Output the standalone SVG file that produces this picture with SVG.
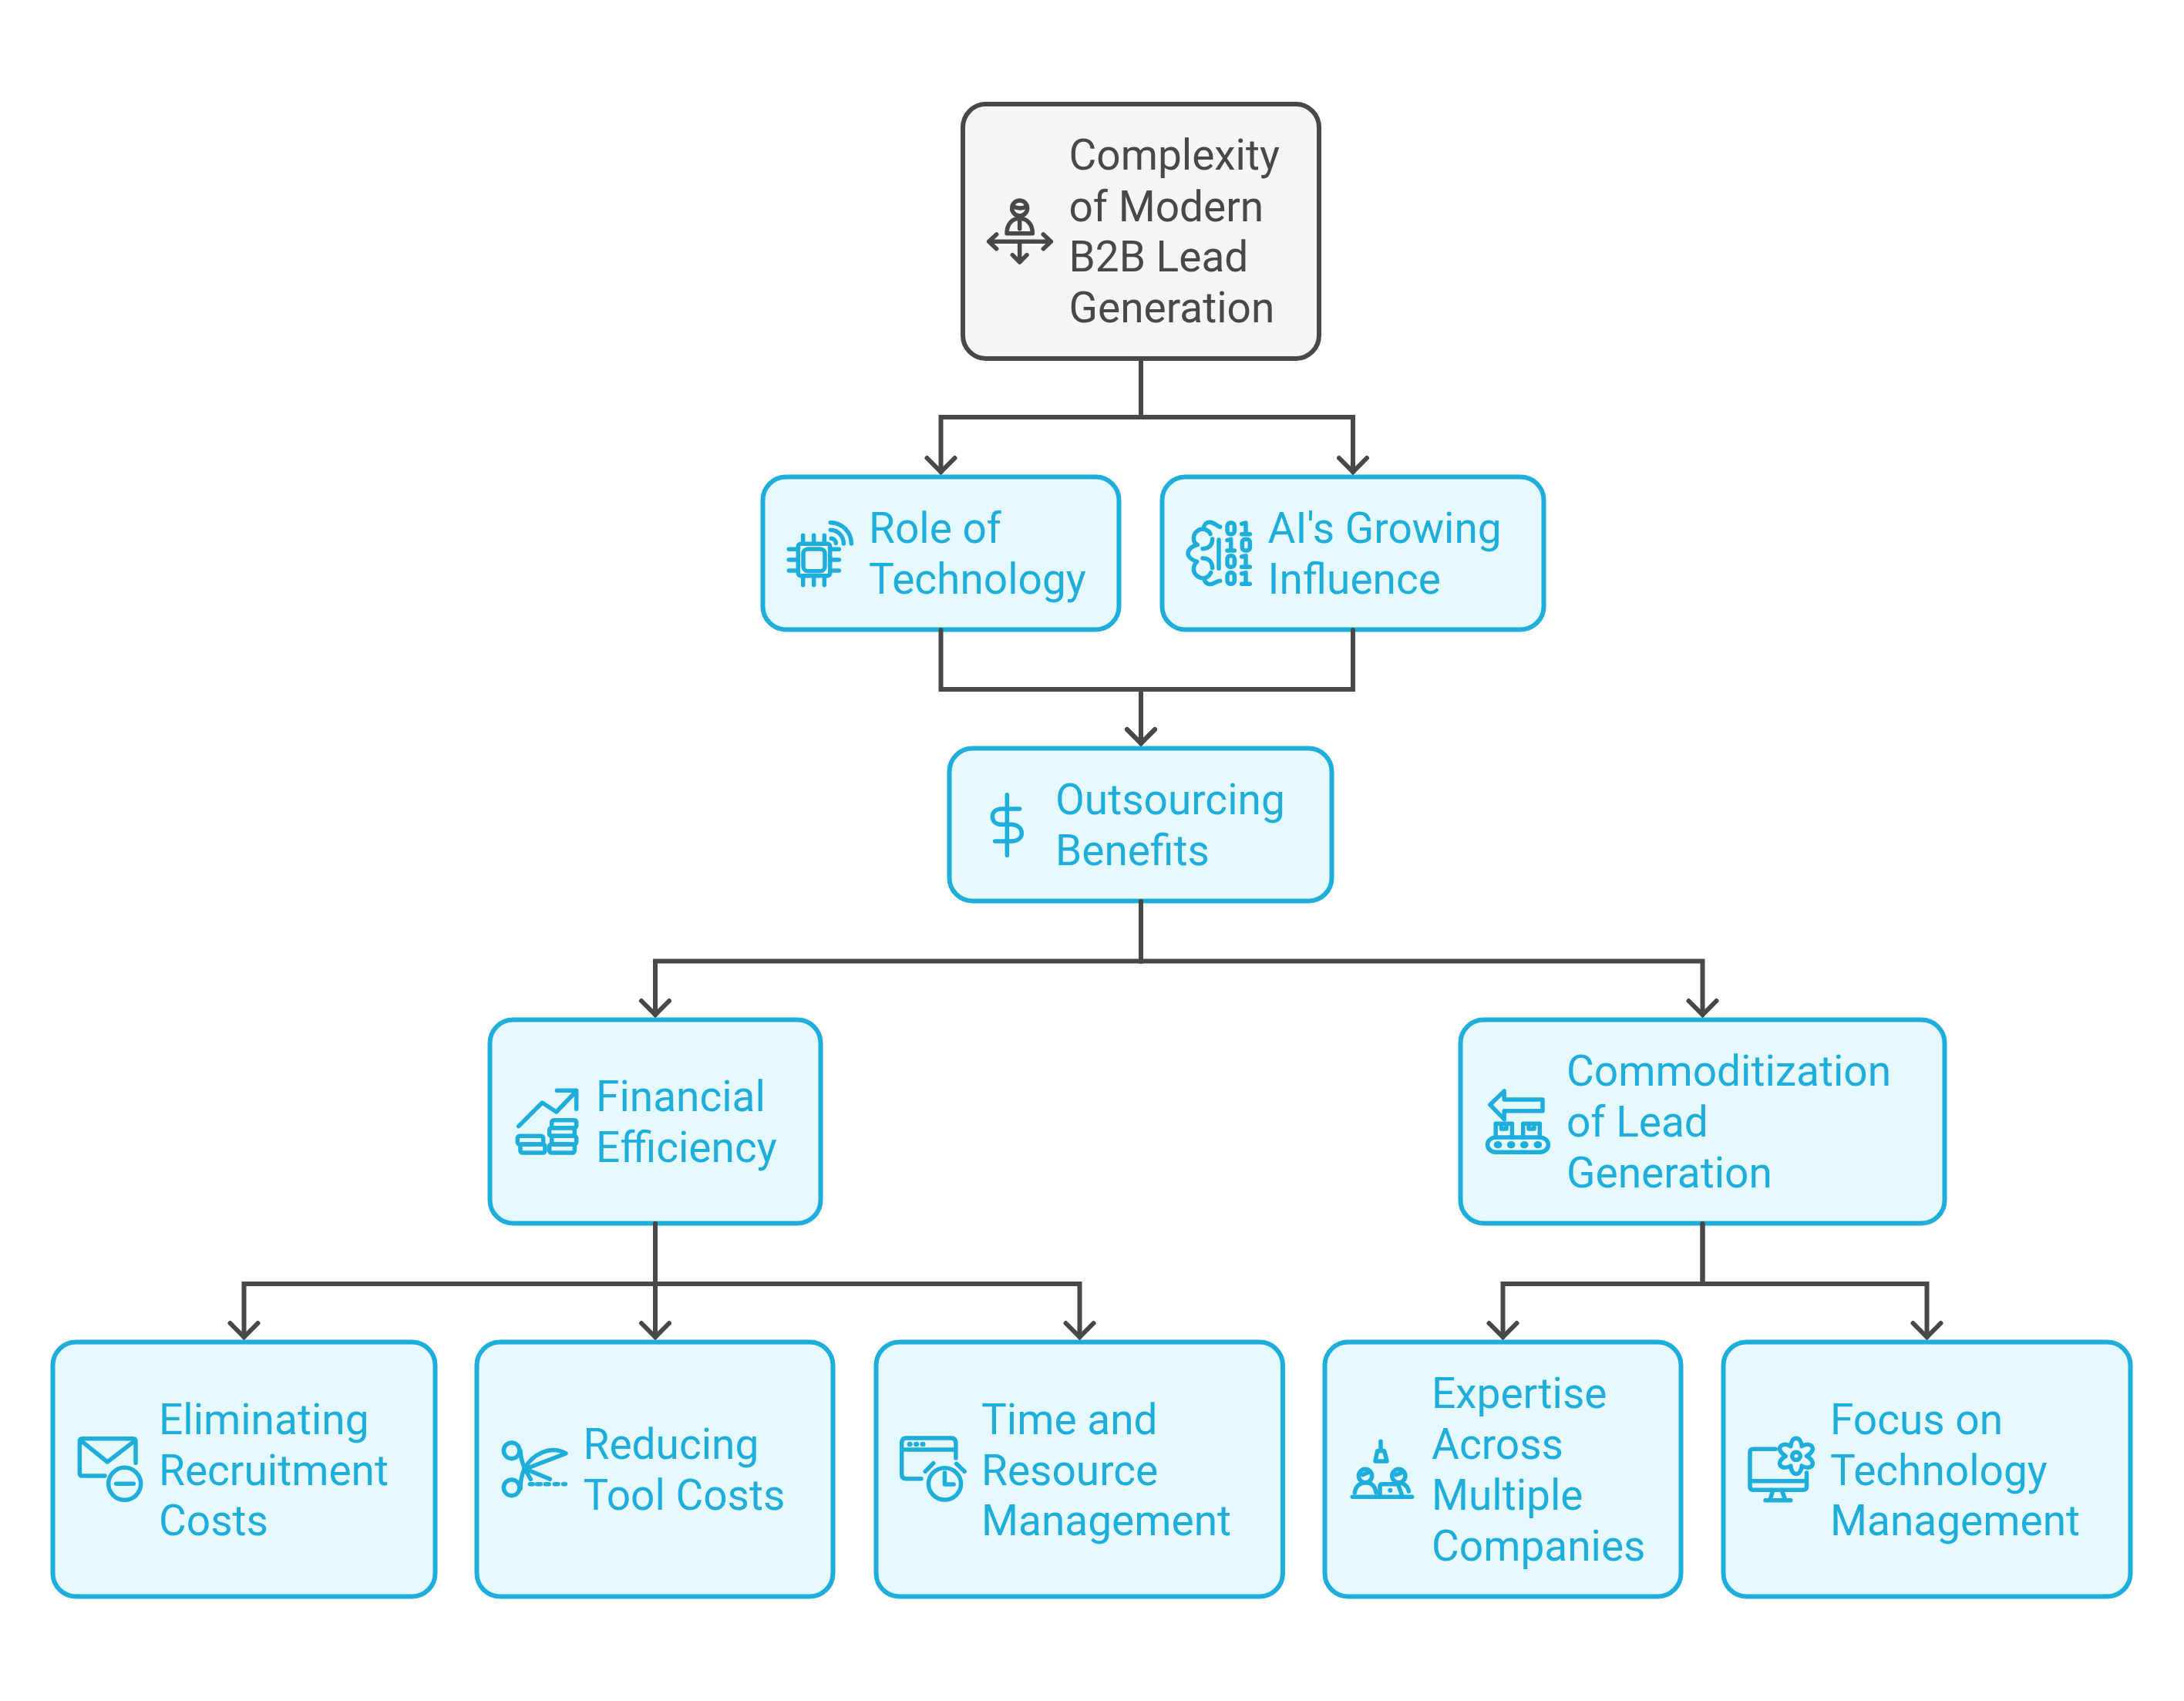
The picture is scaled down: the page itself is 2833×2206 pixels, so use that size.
<svg xmlns="http://www.w3.org/2000/svg" width="2833" height="2206" viewBox="0 0 2833 2206">
<style>
.box{fill:#e6f9ff;stroke:#1faedc;stroke-width:6}
.root{fill:#f5f5f5;stroke:#484848;stroke-width:6}
.t{font-family:Roboto,"Liberation Sans",sans-serif;font-size:55px;fill:#1faedc}
.ic{fill:none;stroke:#1faedc;stroke-width:5.5;stroke-linecap:round;stroke-linejoin:round}
.ic *{vector-effect:non-scaling-stroke}
.ic .f{fill:#1faedc;stroke:none}
.dk{stroke:#484848}
.c{fill:none;stroke:#484848;stroke-width:6;stroke-linecap:round;stroke-linejoin:miter}
</style>
<defs>
<marker id="arr" markerUnits="userSpaceOnUse" viewBox="-24 -24 32 48" refX="0" refY="0" markerWidth="32" markerHeight="48" orient="auto" overflow="visible">
<path d="M-18 -18L0 0L-18 18" fill="none" stroke="#484848" stroke-width="6" stroke-linecap="round" stroke-linejoin="miter"/>
</marker>
</defs>
<rect width="2833" height="2206" fill="#ffffff"/>
<g id="node-complexity">
<rect class="root" x="1249" y="135" width="462" height="330" rx="30"/>
<g class="ic dk" transform="translate(1220 120) scale(.33333)">
<circle cx="308" cy="450" r="30"/><path d="M282 442C300 452 320 452 336 442"/>
<path d="M258 548C258 510 280 490 308 490C335 490 358 510 358 548Z"/><path d="M308 500V530"/>
<path d="M188 580H430M218 552L188 580L218 608M400 552L430 580L400 608"/>
<path d="M308 585V660M280 632L308 660L336 632"/>
</g>
<text class="t" style="fill:#484848"><tspan x="1386.5" y="220">Complexity</tspan><tspan x="1386.5" y="286.5">of Modern</tspan><tspan x="1386.5" y="352">B2B Lead</tspan><tspan x="1386.5" y="418">Generation</tspan></text>
</g>
<g id="node-role">
<rect class="box" x="989.5" y="618.5" width="462" height="198" rx="30"/>
<g class="ic" transform="translate(970 600) scale(.33333)">
<rect x="196" y="316" width="124" height="124" rx="10"/><rect x="216" y="336" width="84" height="86" rx="18"/>
<path d="M215 283V310M257 283V310M298 283V310M215 450V476M257 450V476M298 450V476M160 337H190M160 378H190M160 420H190M325 337H355M325 378H355M325 420H355"/>
<path d="M322 233A82 82 0 0 1 403 315M322 262A52 52 0 0 1 373 315M325 295A19 19 0 0 1 343 313"/>
</g>
<text class="t"><tspan x="1127" y="704">Role of</tspan><tspan x="1127" y="770">Technology</tspan></text>
</g>
<g id="node-ai">
<rect class="box" x="1507.5" y="618.5" width="495" height="198" rx="30"/>
<g class="ic" transform="translate(1490 600) scale(.33333)">
<path d="M278 250C262 245 255 232 238 232C222 232 214 245 214 258C190 258 175 275 175 295C175 305 180 315 190 320C165 325 153 340 153 353C153 365 165 378 188 385C178 395 175 405 175 415C175 435 195 450 215 450C218 465 228 473 240 473C255 473 260 462 278 460"/>
<path d="M214 258C228 262 238 270 240 278M215 450C228 446 238 438 242 428M210 335C235 335 248 320 248 297M210 372C235 372 248 388 248 410M273 300V412"/>
<rect x="306" y="234" width="28" height="44" rx="12"/><path d="M362 238L378 234V278M362 278H394"/>
<path d="M306 302L320 298V342M306 342H334"/><rect x="364" y="298" width="30" height="44" rx="12"/>
<rect x="306" y="362" width="28" height="44" rx="12"/><path d="M362 366L378 362V406M362 406H394"/>
<rect x="306" y="428" width="28" height="44" rx="12"/><path d="M362 432L378 428V472M362 472H394"/>
</g>
<text class="t"><tspan x="1644.5" y="704">AI's Growing</tspan><tspan x="1644.5" y="770">Influence</tspan></text>
</g>
<g id="node-outsourcing">
<rect class="box" x="1231.5" y="970.5" width="496" height="198" rx="30"/>
<g class="ic" transform="translate(1210 950) scale(.33333)">
<path d="M289 242V478M338 297H268C245 297 232 310 232 327C232 345 245 358 268 358H305C330 358 346 372 346 392C346 410 330 423 305 423H242"/>
</g>
<text class="t"><tspan x="1369" y="1056">Outsourcing</tspan><tspan x="1369" y="1122">Benefits</tspan></text>
</g>
<g id="node-financial">
<rect class="box" x="635.5" y="1322.5" width="429" height="264" rx="30"/>
<g class="ic" transform="translate(620 1310) scale(.33333)">
<path d="M158 452L250 360L305 396L383 315M307 313H383V385"/>
<rect x="154" y="490" width="100" height="32" rx="8"/><rect x="165" y="522" width="96" height="33" rx="8"/>
<rect x="287" y="428" width="96" height="30" rx="8"/><rect x="278" y="458" width="98" height="32" rx="8"/><rect x="287" y="490" width="96" height="32" rx="8"/><rect x="278" y="522" width="98" height="33" rx="8"/>
</g>
<text class="t"><tspan x="773" y="1441">Financial</tspan><tspan x="773" y="1507">Efficiency</tspan></text>
</g>
<g id="node-commoditization">
<rect class="box" x="1894.5" y="1322.5" width="628" height="264" rx="30"/>
<g class="ic" transform="translate(1890 1310) scale(.408 .33333)">
<path d="M105 368L150 315V348H272V392H150V425Z"/>
<path d="M123 495V442H175V495M210 495V442H263V495M141 442V462H157V442M228 442V462H245V442"/>
<rect x="97" y="495" width="193" height="58" rx="28"/>
<ellipse class="f" cx="130" cy="524" rx="13" ry="14"/><ellipse class="f" cx="172" cy="524" rx="13" ry="14"/><ellipse class="f" cx="214" cy="524" rx="13" ry="14"/><ellipse class="f" cx="257" cy="524" rx="13" ry="14"/>
</g>
<text class="t"><tspan x="2032" y="1408">Commoditization</tspan><tspan x="2032" y="1474">of Lead</tspan><tspan x="2032" y="1540">Generation</tspan></text>
</g>
<g id="node-recruitment">
<rect class="box" x="68.5" y="1740.5" width="496" height="330" rx="30"/>
<g class="ic" transform="translate(60 1730) scale(.33333)">
<path d="M228 552H140Q130 552 130 542V418Q130 407 140 407H337Q348 407 348 418V502M135 415L238 498L345 415"/>
<circle cx="305" cy="583" r="63"/><path d="M272 583H340"/>
</g>
<text class="t"><tspan x="206" y="1859.5">Eliminating</tspan><tspan x="206" y="1925.5">Recruitment</tspan><tspan x="206" y="1991">Costs</tspan></text>
</g>
<g id="node-tools">
<rect class="box" x="618.5" y="1740.5" width="462" height="330" rx="30"/>
<g class="ic" transform="translate(610 1730) scale(.33333)">
<circle cx="161" cy="454" r="31"/><circle cx="161" cy="598" r="31"/>
<path d="M195 455C197 490 205 515 235 565M195 602C195 575 200 550 210 525C240 470 310 430 372 465L215 525L310 565"/>
<path d="M232 584H244M260 584H274M292 584H306M328 584H342M362 584H370"/>
</g>
<text class="t"><tspan x="756.5" y="1892">Reducing</tspan><tspan x="756.5" y="1958">Tool Costs</tspan></text>
</g>
<g id="node-time">
<rect class="box" x="1136.5" y="1740.5" width="527.5" height="330" rx="30"/>
<g class="ic" transform="translate(1130 1730) scale(.351 .33333)">
<path d="M185 563H130Q113 563 113 545V425Q113 405 130 405H295Q313 405 313 425V483M113 450H313"/>
<ellipse class="f" cx="143" cy="429" rx="10" ry="10"/><ellipse class="f" cx="167" cy="429" rx="10" ry="10"/><ellipse class="f" cx="191" cy="429" rx="10" ry="10"/>
<ellipse cx="272" cy="583" rx="60" ry="62"/><path d="M272 540V585H305M200 535L230 503M315 505L345 535"/>
</g>
<text class="t"><tspan x="1273" y="1859.5">Time and</tspan><tspan x="1273" y="1925.5">Resource</tspan><tspan x="1273" y="1991">Management</tspan></text>
</g>
<g id="node-expertise">
<rect class="box" x="1718.5" y="1740.5" width="462" height="330" rx="30"/>
<g class="ic" transform="translate(1710 1730) scale(.33333)">
<path d="M243 418V455M230 455H257L267 495H222Z"/>
<circle cx="183" cy="552" r="26"/><path d="M172 548L192 540"/><path d="M142 618C145 590 165 578 183 578C205 578 222 590 225 618"/>
<circle cx="313" cy="552" r="26"/><path d="M302 548L324 540"/><path d="M310 578C330 578 348 590 352 612"/>
<path d="M133 634H365"/><path d="M240 625V592Q240 584 250 584H310L325 625"/><circle class="f" cx="280" cy="608" r="9"/>
</g>
<text class="t"><tspan x="1857" y="1826">Expertise</tspan><tspan x="1857" y="1892">Across</tspan><tspan x="1857" y="1958">Multiple</tspan><tspan x="1857" y="2024">Companies</tspan></text>
</g>
<g id="node-focus">
<rect class="box" x="2235.5" y="1740.5" width="528" height="330" rx="30"/>
<g class="ic" transform="translate(2230 1730) scale(.357 .33333)">
<path d="M205 448H125Q112 448 112 460V595Q112 607 125 607H305Q318 607 318 595V540M112 572H318M195 610L185 645M228 610L240 645M168 647H260"/>
<path d="M260 437C262 395 298 395 300 437C335 415 360 450 318 475C360 500 335 535 300 513C298 555 262 555 260 513C225 535 200 500 242 475C200 450 225 415 260 437Z"/>
<ellipse cx="280" cy="475" rx="15" ry="15"/>
</g>
<text class="t"><tspan x="2374" y="1859.5">Focus on</tspan><tspan x="2374" y="1925.5">Technology</tspan><tspan x="2374" y="1991">Management</tspan></text>
</g>
<g id="connectors">
<path class="c" marker-end="url(#arr)" d="M1480 465V541H1220.5V612"/>
<path class="c" marker-end="url(#arr)" d="M1480 465V541H1755V612"/>
<path class="c" marker-end="url(#arr)" d="M1220.5 817V894H1480V964"/>
<path class="c" marker-end="url(#arr)" d="M1755 817V894H1480V964"/>
<path class="c" marker-end="url(#arr)" d="M1480 1169V1246.5H850V1316"/>
<path class="c" marker-end="url(#arr)" d="M1480 1169V1246.5H2208.5V1316"/>
<path class="c" marker-end="url(#arr)" d="M850 1587V1665H316.5V1734"/>
<path class="c" marker-end="url(#arr)" d="M850 1587V1734"/>
<path class="c" marker-end="url(#arr)" d="M850 1587V1665H1400.5V1734"/>
<path class="c" marker-end="url(#arr)" d="M2208.5 1587V1665H1949.5V1734"/>
<path class="c" marker-end="url(#arr)" d="M2208.5 1587V1665H2499.5V1734"/>
</g>
</svg>
